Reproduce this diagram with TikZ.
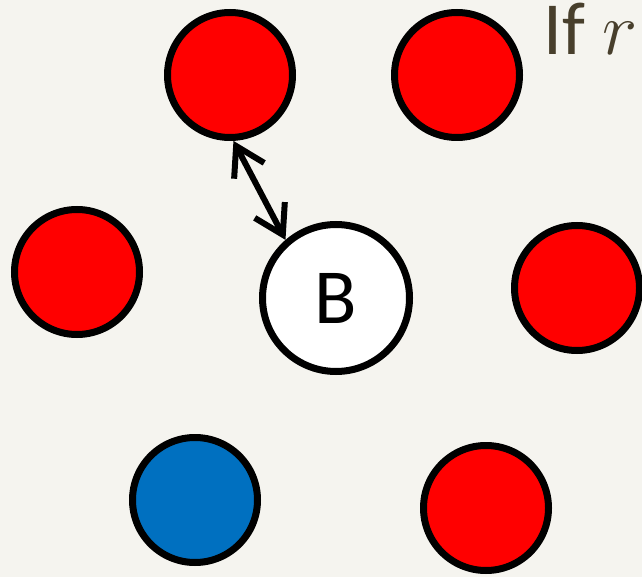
\RequirePackage{fix-cm}
\documentclass[tikz,border=0pt]{standalone}
\usepackage{fontspec}
\setmainfont{Carlito}
\usepackage{tikz}
\usetikzlibrary{arrows.meta,positioning}
\usepackage{xcolor}
\definecolor{paper}{RGB}{245,244,239}
\definecolor{ballblue}{RGB}{0,112,192}
\definecolor{inkdark}{RGB}{72,63,44}

\begin{document}
\begin{tikzpicture}[
    x=0.5pt, y=-0.5pt,
    particle/.style={circle, draw=black, line width=3.5pt, minimum size=62.5pt, inner sep=0pt},
    hot/.style={particle, fill=red},
    cold/.style={particle, fill=ballblue},
    probe/.style={particle, fill=white, minimum size=73.5pt, font=\fontsize{39}{40}\selectfont},
    caption/.style={anchor=base west, inner sep=0pt, text=inkdark, font=\fontsize{37.5}{40}\selectfont},
    link/.style={{Straight Barb[length=14pt,width=17pt]}-{Straight Barb[length=14pt,width=17pt]}, line width=3pt, line cap=round}
  ]
    \fill[paper] (0,0) rectangle (642,577);
    \useasboundingbox (0,0) rectangle (642,577);

    \node[hot] (upperleft) at (230,75) {};
    \node[hot] (upperright) at (457,75) {};
    \node[hot] (midleft) at (77,272) {};
    \node[probe] (ball) at (336,298) {B};
    \node[hot] (midright) at (577,288) {};
    \node[cold] (lowerleft) at (195,500) {};
    \node[hot] (lowerright) at (486,508) {};

    \node[caption] (condition) at (543,55) {If $r$};

    \draw[link] (upperleft.-87) -- (ball.131);
\end{tikzpicture}
\end{document}
